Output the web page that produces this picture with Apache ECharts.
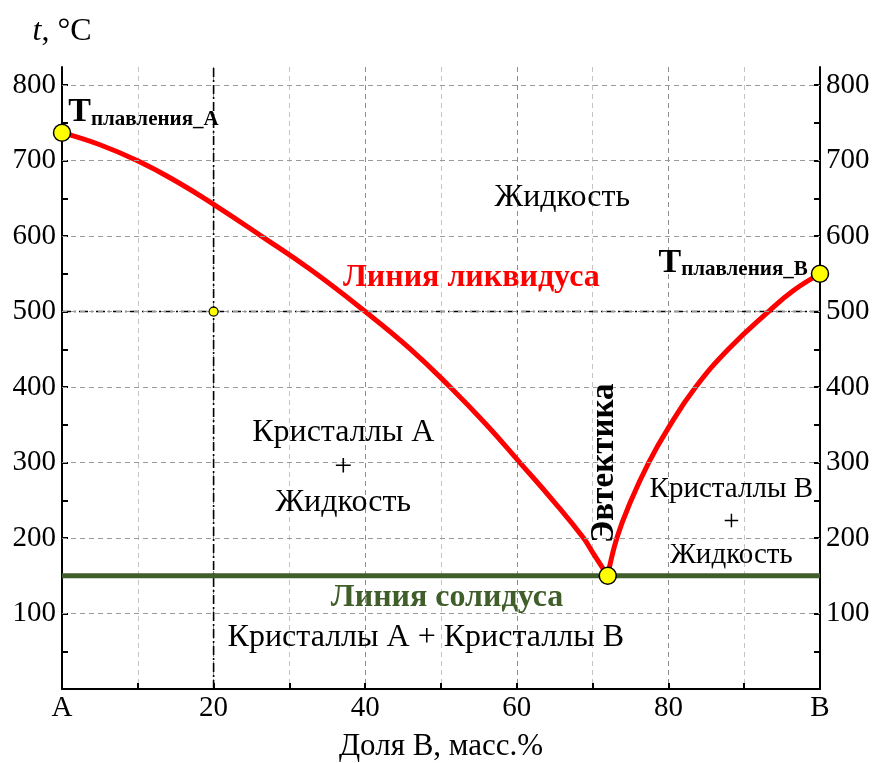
<!DOCTYPE html>
<html>
<head>
<meta charset="utf-8">
<script src="https://cdn.jsdelivr.net/npm/echarts@6/dist/echarts.min.js"></script>
<style>
  html, body { margin: 0; padding: 0; background: #fff; }
  #chart { width: 875px; height: 763px; }
</style>
</head>
<body>
<div id="chart"></div>
<script>
// ---- Phase diagram data: composition x (mass % B), temperature t (°C) ----
const liquidusA_x = [0, 5, 9.9, 15, 20, 26.3, 33, 40, 46, 51.2, 56, 60.4, 65, 68.8, 70, 72];
const liquidusA_t = [737, 721, 700, 673, 642, 600, 554, 500, 450, 400, 350, 300, 247, 200, 181, 150];
const liquidusB_x = [72, 73.2, 75, 77.4, 80, 83.6, 88, 93.2, 96.5, 100];
const liquidusB_t = [150, 200, 248, 300, 346, 400, 451, 500, 528, 550];
const solidus_x = [0, 100];
const solidus_t = [150, 150];

const meltingA = [0, 737];
const meltingB = [100, 550];
const eutectic = [72, 150];
const probe = [20, 500];

// ---- Axis ticks ----
const xTickValues = [0, 20, 40, 60, 80, 100];
const xTickText = ['A', '20', '40', '60', '80', 'B'];
const yLabelValues = [100, 200, 300, 400, 500, 600, 700, 800];
const yTickValues = [50, 100, 150, 200, 250, 300, 350, 400, 450, 500, 550, 600, 650, 700, 750, 800];
const yGridValues = [100, 200, 300, 400, 500, 600, 700, 800];

const X_MIN = 0, X_MAX = 100, T_MIN = 0, T_MAX = 824;
const SERIF = "'Liberation Serif', 'Times New Roman', serif";

const zip = (xs, ys) => xs.map((x, i) => [x, ys[i]]);

const yAxisCommon = {
  type: 'value', min: T_MIN, max: T_MAX, interval: 100,
  axisLine: { show: true, lineStyle: { color: '#000', width: 2 } },
  axisTick: { show: true, inside: true, length: 6, customValues: yTickValues, lineStyle: { color: '#000', width: 2 } },
  axisLabel: {
    customValues: yLabelValues,
    formatter: v => (yLabelValues.includes(v) ? String(v) : ''),
    color: '#000', fontFamily: SERIF, fontSize: 29, margin: 6
  },
  splitLine: { show: false }
};

// Text placed in the diagram regions (anchor in data units)
const notes = [
  { at: [66, 651], text: 'Жидкость', style: { fontSize: 32, color: '#000' } },
  { at: [54, 545], text: 'Линия ликвидуса', style: { fontSize: 32, color: '#ff0000', fontWeight: 'bold' } },
  { at: [37.1, 293], text: 'Кристаллы А\n+\nЖидкость', style: { fontSize: 32, color: '#000', lineHeight: 35 } },
  { at: [88.3, 221], text: 'Кристаллы В\n+\nЖидкость', style: { fontSize: 29, color: '#000', lineHeight: 33 } },
  { at: [50.8, 120.5], text: 'Линия солидуса', style: { fontSize: 32, color: '#3f5e29', fontWeight: 'bold' } },
  { at: [48, 67.5], text: 'Кристаллы А + Кристаллы В', style: { fontSize: 32, color: '#000' } },
  { at: [71.6, 299], text: 'Эвтектика', style: { fontSize: 33, color: '#000', fontWeight: 'bold', rotate: 90 } }
];

const meltRich = {
  big: { fontSize: 34, fontWeight: 'bold', fontFamily: SERIF, color: '#000', verticalAlign: 'bottom' },
  small: { fontSize: 21, fontWeight: 'bold', fontFamily: SERIF, color: '#000', verticalAlign: 'bottom' }
};

const yellowDot = { color: '#ffff00', borderColor: '#000', borderWidth: 1.5, opacity: 1 };

const option = {
  animation: false,
  backgroundColor: '#fff',
  textStyle: { fontFamily: SERIF },
  grid: { left: 62, right: 55, top: 67, bottom: 74, containLabel: false, outerBoundsMode: 'none' },
  xAxis: {
    type: 'value', min: X_MIN, max: X_MAX, interval: 20,
    name: 'Доля В, масс.%', nameLocation: 'middle', nameGap: 42,
    nameTextStyle: { fontSize: 31, color: '#000', fontFamily: SERIF },
    axisLine: { show: true, lineStyle: { color: '#000', width: 2 } },
    axisTick: { show: true, inside: true, length: 6, lineStyle: { color: '#000', width: 2 } },
    minorTick: { show: true, splitNumber: 2, length: 6, lineStyle: { color: '#000', width: 2 } },
    axisLabel: {
      color: '#000', fontFamily: SERIF, fontSize: 29, margin: 5,
      formatter: v => { const i = xTickValues.indexOf(v); return i >= 0 ? xTickText[i] : ''; }
    },
    splitLine: { show: true, lineStyle: { color: '#8c8c8c', width: 1, type: [5, 4] } },
    minorSplitLine: { show: true, lineStyle: { color: '#c4c4c4', width: 1, type: [5, 4] } }
  },
  yAxis: [
    Object.assign({}, yAxisCommon, {
      position: 'left',
      name: '{i|t}{n|, °C}', nameLocation: 'end', nameGap: 19,
      nameTextStyle: {
        rich: {
          i: { fontSize: 32, fontStyle: 'italic', fontFamily: SERIF, color: '#000' },
          n: { fontSize: 32, fontFamily: SERIF, color: '#000' }
        }
      }
    }),
    Object.assign({}, yAxisCommon, { position: 'right' })
  ],
  series: [
    {
      // horizontal grid
      name: 'grid', type: 'line', z: 1, silent: true,
      data: [[X_MIN, T_MIN]], symbol: 'none', lineStyle: { opacity: 0 },
      markLine: {
        silent: true, symbol: 'none', animation: false, label: { show: false },
        lineStyle: { color: '#9a9a9a', width: 1, type: [5, 4] },
        data: yGridValues.map(v => ({ yAxis: v }))
      }
    },
    {
      // vertical guide at the probe composition
      name: 'guideX', type: 'line', z: 2, silent: true, symbol: 'none',
      data: [[probe[0], T_MIN], [probe[0], T_MAX]],
      lineStyle: { color: '#000', width: 1.6, type: [9, 3, 2, 3] }
    },
    {
      // horizontal guide at the probe temperature
      name: 'guideT', type: 'line', z: 2, silent: true, symbol: 'none',
      data: [[X_MIN, probe[1]], [X_MAX, probe[1]]],
      lineStyle: { color: '#000', width: 1.6, type: [9, 3, 2, 3] }
    },
    {
      name: 'solidus', type: 'line', z: 3, symbol: 'none',
      data: zip(solidus_x, solidus_t),
      lineStyle: { color: '#3f5e29', width: 5 }
    },
    {
      name: 'liquidusA', type: 'line', z: 4, symbol: 'none', smooth: 0.45,
      data: zip(liquidusA_x, liquidusA_t),
      lineStyle: { color: '#ff0000', width: 5 }
    },
    {
      name: 'liquidusB', type: 'line', z: 4, symbol: 'none', smooth: 0.45,
      data: zip(liquidusB_x, liquidusB_t),
      lineStyle: { color: '#ff0000', width: 5 }
    },
    {
      name: 'keyPoints', type: 'scatter', z: 5, symbol: 'circle', symbolSize: 17,
      itemStyle: yellowDot,
      data: [
        {
          value: meltingA,
          label: {
            show: true, position: 'right', distance: -3, offset: [0, -20], opacity: 1,
            formatter: '{big|T}{small|плавления_A}', rich: meltRich
          }
        },
        {
          value: meltingB,
          label: {
            show: true, position: 'left', distance: 3, offset: [0, -11], opacity: 1,
            formatter: '{big|T}{small|плавления_B}', rich: meltRich
          }
        },
        { value: eutectic }
      ]
    },
    {
      name: 'probePoint', type: 'scatter', z: 5, symbol: 'circle', symbolSize: 9,
      itemStyle: { color: '#ffff00', borderColor: '#000', borderWidth: 1.2, opacity: 1 },
      data: [probe]
    },
    {
      name: 'notes', type: 'scatter', z: 6, symbolSize: 0, silent: true,
      itemStyle: { opacity: 1 },
      data: notes.map(n => ({
        value: n.at,
        label: Object.assign({
          show: true, position: 'inside', formatter: n.text, opacity: 1,
          fontFamily: SERIF, align: 'center', verticalAlign: 'middle',
          textBorderWidth: 0, textBorderColor: 'transparent'
        }, n.style)
      }))
    }
  ]
};

const chart = echarts.init(document.getElementById('chart'), null, { renderer: 'canvas' });
chart.setOption(option);
</script>
</body>
</html>
